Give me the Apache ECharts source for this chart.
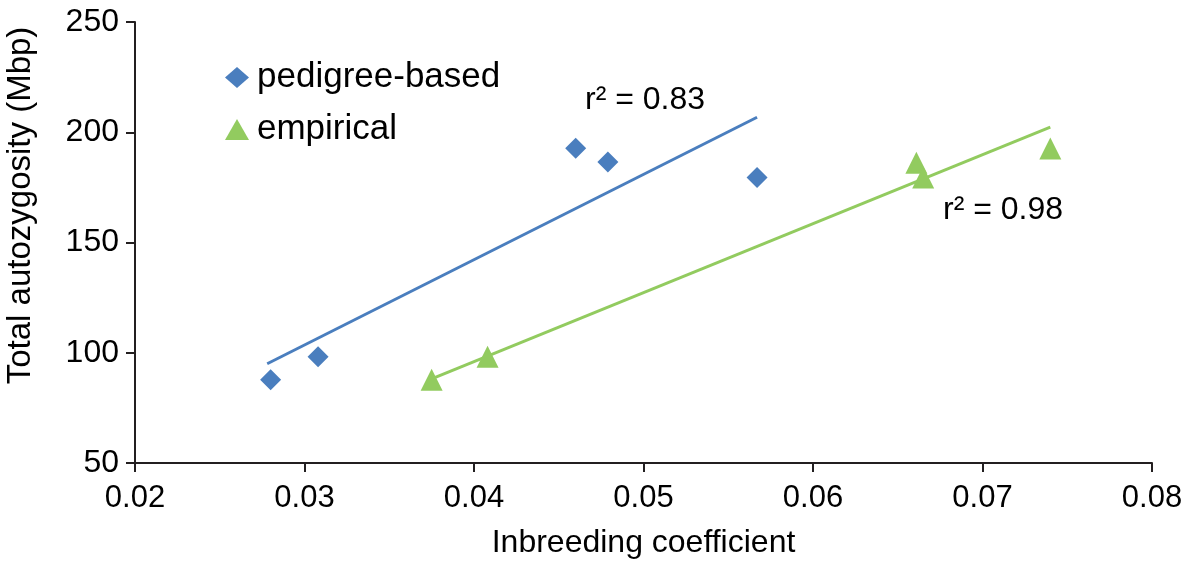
<!DOCTYPE html>
<html>
<head>
<meta charset="utf-8">
<script src="https://cdn.jsdelivr.net/npm/echarts@6/dist/echarts.min.js"></script>
<style>
  html, body { margin: 0; padding: 0; background: #fff; }
  #chart { width: 1198px; height: 564px; }
</style>
</head>
<body>
<div id="chart"></div>
<script>
// values
const pedigreeX = [0.0280, 0.0308, 0.0460, 0.0479, 0.0567]
const pedigreeY = [87.7, 98.2, 192.8, 186.5, 179.5]
const empiricalX = [0.0375, 0.0408, 0.0661, 0.0665, 0.0740]
const empiricalY = [87.7, 98.2, 186.2, 179.5, 192.6]
// trend line end points
const pedigreeFitX = [0.0278, 0.0567]
const pedigreeFitY = [95.0, 206.8]
const empiricalFitX = [0.0375, 0.0740]
const empiricalFitY = [88.2, 202.3]

const BLUE = '#4a7ebe'
const GREEN = '#92cb5f'
const AXIS = '#231f20'
const FONT = 'Liberation Sans, Arial, sans-serif'

function pairs(xs, ys) {
  return xs.map((x, i) => [x, ys[i]])
}

const chart = echarts.init(document.getElementById('chart'))

const option = {
  animation: false,
  backgroundColor: '#fff',
  textStyle: { fontFamily: FONT },
  grid: { left: 135, right: 46, top: 22, bottom: 101, containLabel: false, outerBoundsMode: 'none' },
  legend: {
    data: ['pedigree-based', 'empirical'],
    orient: 'vertical',
    left: 220,
    top: 55,
    itemGap: 17,
    itemWidth: 24,
    itemHeight: 21,
    textStyle: { fontSize: 35, color: '#000', fontFamily: FONT, padding: [0, 0, 0, 3] }
  },
  xAxis: {
    type: 'value',
    min: 0.02,
    max: 0.08,
    interval: 0.01,
    name: 'Inbreeding coefficient',
    nameLocation: 'middle',
    nameGap: 64,
    nameTextStyle: { fontSize: 32, color: '#000', fontFamily: FONT },
    axisLine: { show: true, lineStyle: { color: AXIS, width: 2 } },
    axisTick: { show: true, length: 9, lineStyle: { color: AXIS, width: 2 } },
    axisLabel: {
      fontSize: 31, color: '#000', margin: 20,
      formatter: v => v.toFixed(2)
    },
    splitLine: { show: false }
  },
  yAxis: {
    type: 'value',
    min: 50,
    max: 250,
    interval: 50,
    name: 'Total autozygosity (Mbp)',
    nameLocation: 'middle',
    nameGap: 98,
    nameTextStyle: { fontSize: 33, color: '#000', fontFamily: FONT, padding: [0, 0, 0, 74] },
    axisLine: { show: true, lineStyle: { color: AXIS, width: 2 } },
    axisTick: { show: true, length: 9, lineStyle: { color: AXIS, width: 2 } },
    axisLabel: { fontSize: 32, color: '#000', margin: 16 },
    splitLine: { show: false }
  },
  graphic: [
    {
      type: 'text', left: 585, top: 84,
      style: { text: 'r² = 0.83', fontSize: 32, fill: '#000', fontFamily: FONT }
    },
    {
      type: 'text', left: 943, top: 194,
      style: { text: 'r² = 0.98', fontSize: 32, fill: '#000', fontFamily: FONT }
    }
  ],
  series: [
    {
      name: 'pedigree-fit',
      type: 'line',
      data: pairs(pedigreeFitX, pedigreeFitY),
      symbol: 'none',
      lineStyle: { color: BLUE, width: 3 },
      z: 1
    },
    {
      name: 'empirical-fit',
      type: 'line',
      data: pairs(empiricalFitX, empiricalFitY),
      symbol: 'none',
      lineStyle: { color: GREEN, width: 3 },
      z: 1
    },
    {
      name: 'pedigree-based',
      type: 'scatter',
      data: pairs(pedigreeX, pedigreeY),
      symbol: 'diamond',
      symbolSize: 21,
      itemStyle: { color: BLUE, opacity: 1 },
      z: 3
    },
    {
      name: 'empirical',
      type: 'scatter',
      data: pairs(empiricalX, empiricalY),
      symbol: 'triangle',
      symbolSize: 22,
      itemStyle: { color: GREEN, opacity: 1 },
      z: 3
    }
  ]
}

chart.setOption(option)
</script>
</body>
</html>
